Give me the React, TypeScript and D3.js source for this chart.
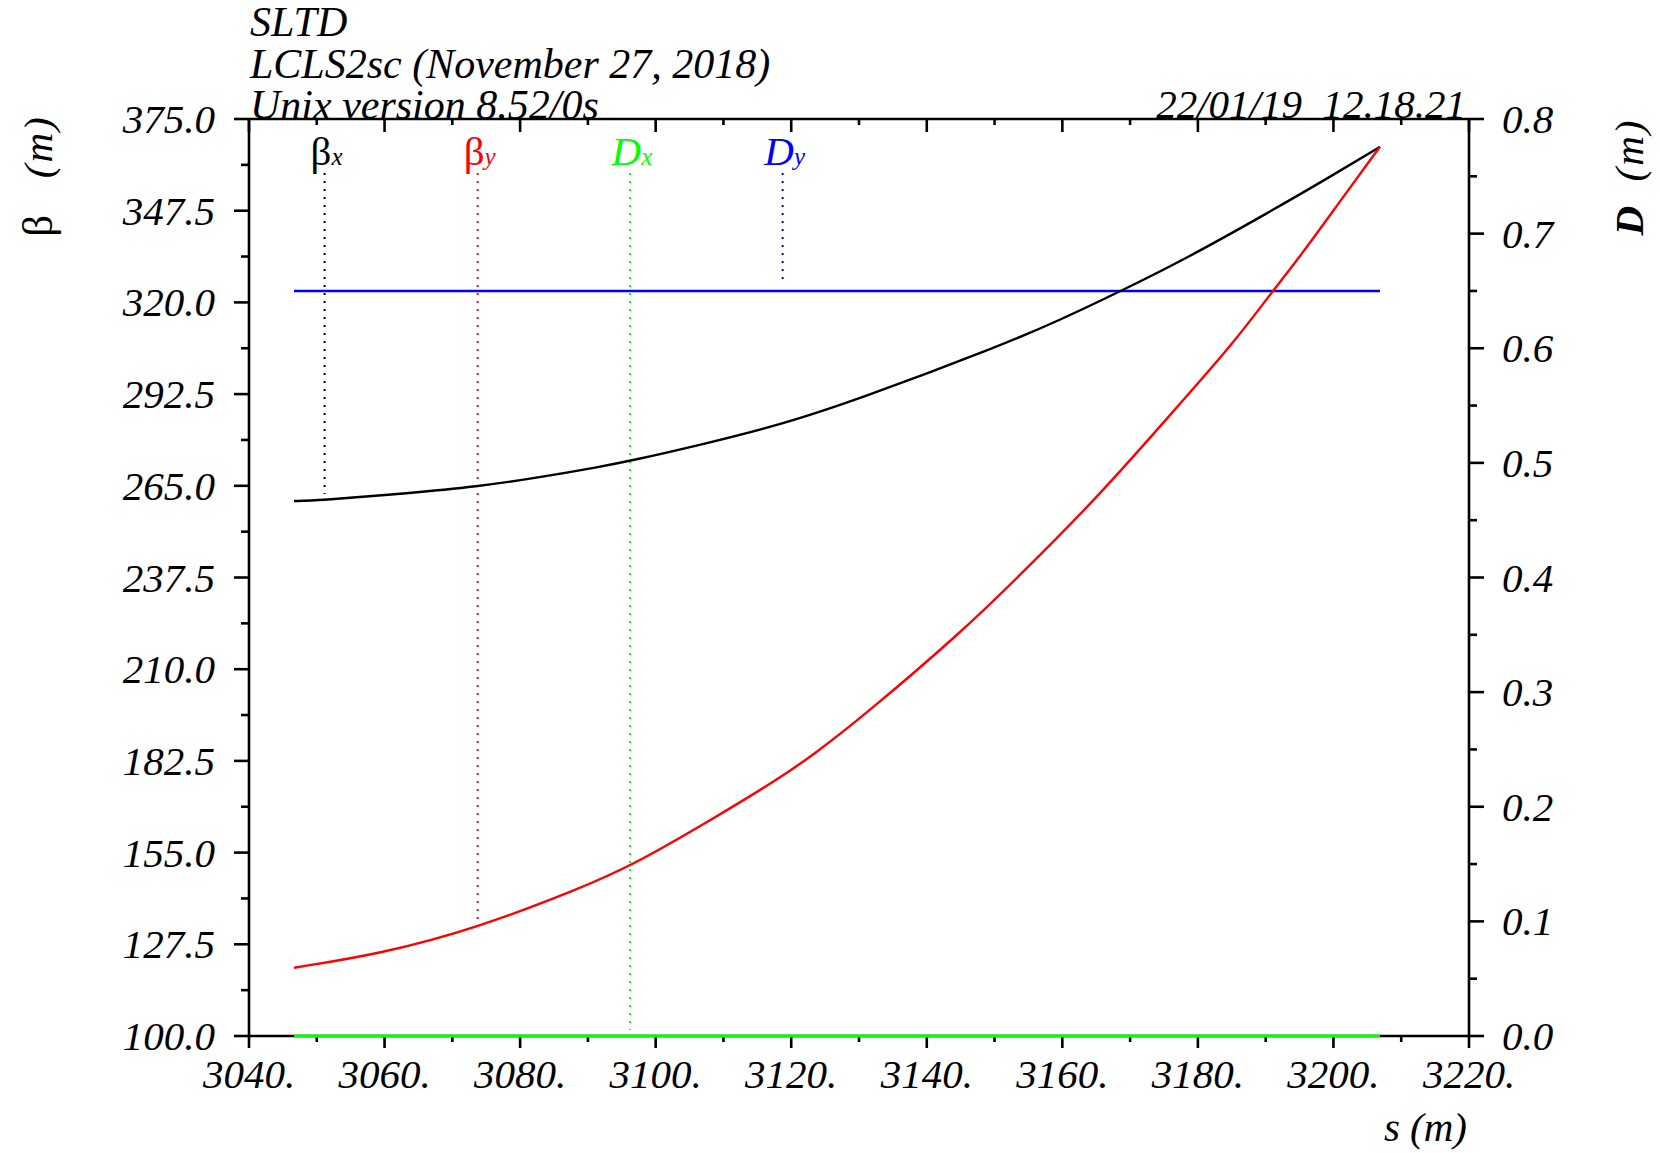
import React from 'react';
import * as d3 from 'd3';

// ---- data ----
const sBetaX = [3046.64, 3049.99, 3063.27, 3073.6, 3082.93, 3091.79, 3096.21, 3106.54, 3118.34, 3129.66, 3150.8, 3159.65, 3168.26, 3178.35, 3190.64, 3199.98, 3206.87];
const betaX = [260.44, 260.53, 262.75, 264.73, 267.55, 270.7, 272.44, 277.23, 283.23, 290.73, 306.92, 314.72, 323.03, 333.22, 347.2, 358.21, 366.69];

const sBetaY = [3046.64, 3059.33, 3073.6, 3088.84, 3096.21, 3108.5, 3117.86, 3123.26, 3131.14, 3144.9, 3153.27, 3165.56, 3177.61, 3185.23, 3190.89, 3195.07, 3201.46, 3206.87];
const betaY = [120.48, 124.59, 132.3, 144.29, 150.77, 165.2, 176.77, 184.27, 196.77, 220.76, 237.2, 262.24, 290.22, 307.73, 323.03, 333.7, 351.7, 366.69];

const sDisp = [3046.64, 3206.87];
const dispX = [0.0, 0.0];
const dispY = [0.65, 0.65];

const legendMain = ['β', 'β', 'D', 'D'];
const legendSub = ['x', 'y', 'x', 'y'];
const legendColors = ['#000000', '#ff0000', '#00ff00', '#0000ff'];
const legendS = [3051.15, 3073.74, 3096.21, 3118.74];

const xTicksMajor = [3040, 3060, 3080, 3100, 3120, 3140, 3160, 3180, 3200, 3220];
const xTicksMinor = [3050, 3070, 3090, 3110, 3130, 3150, 3170, 3190, 3210];
const yLeftTicks = [100, 127.5, 155, 182.5, 210, 237.5, 265, 292.5, 320, 347.5, 375];
const yRightTicks = [0, 0.1, 0.2, 0.3, 0.4, 0.5, 0.6, 0.7, 0.8];

const headerLines = ['SLTD', 'LCLS2sc (November 27, 2018)', 'Unix version 8.52/0s'];
const dateText = '22/01/19  12.18.21';

// ---- layout ----
const W = 1660;
const H = 1153;
const L = 249;
const R = 1469;
const T = 119;
const B = 1036;
const FONT = "'Liberation Serif', 'Times New Roman', serif";
const FS = 41;

export default function App() {
  const x = d3.scaleLinear().domain([3040, 3220]).range([L, R]);
  const yL = d3.scaleLinear().domain([100, 375]).range([B, T]);
  const yR = d3.scaleLinear().domain([0, 0.8]).range([B, T]);

  const lineL = d3
    .line<[number, number]>()
    .x((d) => x(d[0]))
    .y((d) => yL(d[1]))
    .curve(d3.curveBasis);
  const lineR = d3
    .line<[number, number]>()
    .x((d) => x(d[0]))
    .y((d) => yR(d[1]));

  const bxPts = sBetaX.map((s, i) => [s, betaX[i]] as [number, number]);
  const byPts = sBetaY.map((s, i) => [s, betaY[i]] as [number, number]);
  const dxPts = sDisp.map((s, i) => [s, dispX[i]] as [number, number]);
  const dyPts = sDisp.map((s, i) => [s, dispY[i]] as [number, number]);

  const interp = (ss: number[], vs: number[], s: number) => {
    const i = Math.max(1, Math.min(ss.length - 1, d3.bisectLeft(ss, s)));
    const t = (s - ss[i - 1]) / (ss[i] - ss[i - 1]);
    return vs[i - 1] + t * (vs[i] - vs[i - 1]);
  };
  const legendEndY = [
    yL(interp(sBetaX, betaX, legendS[0])),
    yL(interp(sBetaY, betaY, legendS[1])),
    yR(interp(sDisp, dispX, legendS[2])),
    yR(interp(sDisp, dispY, legendS[3])),
  ];

  const yLMinor = yLeftTicks.slice(0, -1).map((v, i) => (v + yLeftTicks[i + 1]) / 2);
  const yRMinor = yRightTicks.slice(0, -1).map((v, i) => (v + yRightTicks[i + 1]) / 2);

  const ax = { stroke: '#000', strokeWidth: 2.6 };

  return (
    <svg
      width={W}
      height={H}
      viewBox={`0 0 ${W} ${H}`}
      style={{ position: 'absolute', left: 0, top: 0, background: '#fff' }}
      fontFamily={FONT}
    >
      <rect x={0} y={0} width={W} height={H} fill="#fff" />

      {/* header */}
      {headerLines.map((t, i) => (
        <text key={t} x={L + 1} y={36 + i * 41.5} fontSize={42} fontStyle="italic" fill="#000">
          {t}
        </text>
      ))}
      <text x={R - 3} y={118} fontSize={FS} fontStyle="italic" textAnchor="end" fill="#000" style={{ whiteSpace: 'pre' }}>
        {dateText}
      </text>

      {/* frame */}
      <line x1={L} x2={R} y1={T} y2={T} {...ax} />
      <line x1={L} x2={R} y1={B} y2={B} {...ax} />
      <line x1={L} x2={L} y1={T} y2={B} {...ax} />
      <line x1={R} x2={R} y1={T} y2={B} {...ax} />

      {/* bottom / top axis ticks + labels */}
      {xTicksMajor.map((v) => (
        <g key={'xb' + v}>
          <line x1={x(v)} x2={x(v)} y1={B} y2={B + 12} {...ax} />
          <line x1={x(v)} x2={x(v)} y1={T} y2={T + 13} {...ax} />
          <text x={x(v)} y={1088} fontSize={FS} fontStyle="italic" textAnchor="middle">
            {v + '.'}
          </text>
        </g>
      ))}
      {xTicksMinor.map((v) => (
        <g key={'xm' + v}>
          <line x1={x(v)} x2={x(v)} y1={B} y2={B + 6} {...ax} />
          <line x1={x(v)} x2={x(v)} y1={T} y2={T + 6} {...ax} />
        </g>
      ))}

      {/* left axis */}
      {yLeftTicks.map((v) => (
        <g key={'yl' + v}>
          <line x1={L - 15} x2={L} y1={yL(v)} y2={yL(v)} {...ax} />
          <text x={215} y={yL(v) + 14} fontSize={FS} fontStyle="italic" textAnchor="end">
            {v.toFixed(1)}
          </text>
        </g>
      ))}
      {yLMinor.map((v) => (
        <line key={'ylm' + v} x1={L - 8} x2={L} y1={yL(v)} y2={yL(v)} {...ax} />
      ))}

      {/* right axis */}
      {yRightTicks.map((v) => (
        <g key={'yr' + v}>
          <line x1={R} x2={R + 15} y1={yR(v)} y2={yR(v)} {...ax} />
          <text x={1502} y={yR(v) + 14} fontSize={FS} fontStyle="italic" textAnchor="start">
            {v.toFixed(1)}
          </text>
        </g>
      ))}
      {yRMinor.map((v) => (
        <line key={'yrm' + v} x1={R} x2={R + 8} y1={yR(v)} y2={yR(v)} {...ax} />
      ))}

      {/* axis titles */}
      <text transform="translate(52,176) rotate(-90)" fontSize={FS} textAnchor="middle" style={{ whiteSpace: 'pre' }}>
        <tspan fontSize={43}>β</tspan>
        <tspan fontStyle="italic" letterSpacing={2}>{'   (m)'}</tspan>
      </text>
      <text transform="translate(1643,177) rotate(-90)" fontSize={FS} textAnchor="middle" style={{ whiteSpace: 'pre' }}>
        <tspan fontStyle="italic" fontWeight="bold">D</tspan>
        <tspan fontStyle="italic" letterSpacing={2}>{'  (m)'}</tspan>
      </text>
      <text x={1467} y={1141} fontSize={FS} fontStyle="italic" textAnchor="end">
        s (m)
      </text>

      {/* legend markers */}
      {legendS.map((s, i) => (
        <g key={'lg' + i}>
          <line
            x1={x(s)}
            x2={x(s)}
            y1={173}
            y2={legendEndY[i] - 6}
            stroke={legendColors[i]}
            strokeWidth={2}
            strokeDasharray="2 6"
          />
          <text x={x(s) + 2} y={165} fontSize={FS} textAnchor="middle" fill={legendColors[i]}>
            <tspan fontStyle={legendMain[i] === 'D' ? 'italic' : 'normal'}>{legendMain[i]}</tspan>
            <tspan fontSize={25} fontStyle="italic">{legendSub[i]}</tspan>
          </text>
        </g>
      ))}

      {/* curves */}
      <path d={lineR(dxPts) || ''} fill="none" stroke="#00ff00" strokeWidth={3.2} />
      <path d={lineR(dyPts) || ''} fill="none" stroke="#0000ff" strokeWidth={2.6} />
      <path d={lineL(bxPts) || ''} fill="none" stroke="#000000" strokeWidth={2.4} />
      <path d={lineL(byPts) || ''} fill="none" stroke="#ff0000" strokeWidth={2.4} />
    </svg>
  );
}
